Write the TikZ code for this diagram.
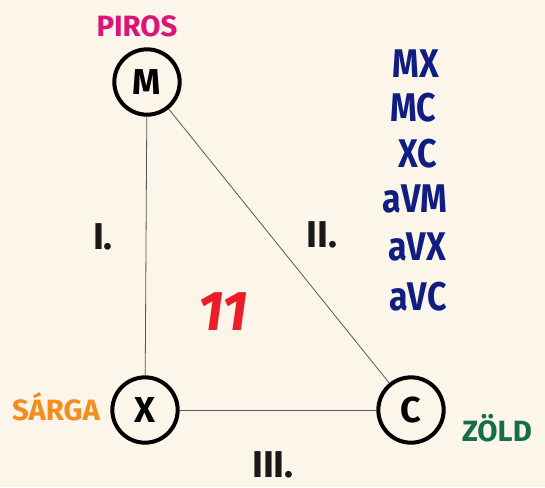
\documentclass[tikz,border=0pt]{standalone}
\usepackage{fontspec}
\setmainfont{Fira Sans}
\begin{document}
\begin{tikzpicture}[x=0.75pt,y=-0.75pt,
  vert/.style={circle,draw=black,line width=3pt,minimum size=49pt,inner sep=0pt,font=\fontsize{27}{27}\selectfont\bfseries},
  edge/.style={draw=black!65,line width=0.6pt},
  roman/.style={font=\fontsize{28}{28}\selectfont\bfseries,text=black!90},
  colname/.style={font=\fontsize{22}{22}\selectfont\bfseries},
  blue/.style={font=\fontsize{30}{30}\selectfont\bfseries,text={rgb,255:red,16;green,30;blue,130},xscale=0.85}]
\fill[fill={rgb,255:red,251;green,245;blue,234}] (0,0) rectangle (545,487);
\useasboundingbox (0,0) rectangle (545,487);
\node[vert] (M) at (147,82) {M};
\node[vert] (X) at (145,410) {X};
\node[vert] (C) at (411,410) {C};
\draw[edge] (M) -- (X);
\draw[edge] (X) -- (C);
\draw[edge] (M) -- (C);
\node[colname,text={rgb,255:red,220;green,20;blue,120}] (piros) at (137,26) {PIROS};
\node[colname,text={rgb,255:red,245;green,140;blue,30}] (sarga) at (56,407) {SÁRGA};
\node[colname,text={rgb,255:red,20;green,110;blue,70}] (zold) at (497,428) {ZÖLD};
\node[roman] (r1) at (103,237) {I.};
\node[roman] (r2) at (322,235) {II.};
\node[roman] (r3) at (273,465) {III.};
\node[font=\fontsize{42}{42}\selectfont\bfseries\itshape,text={rgb,255:red,235;green,30;blue,40}] (eleven) at (223,312) {11};
\node[blue] (b1) at (416,64) {MX};
\node[blue] (b2) at (413,108) {MC};
\node[blue] (b3) at (418,154) {XC};
\node[blue] (b4) at (415,199) {aVM};
\node[blue] (b5) at (417,247) {aVX};
\node[blue] (b6) at (418,297) {aVC};
\end{tikzpicture}
\end{document}
